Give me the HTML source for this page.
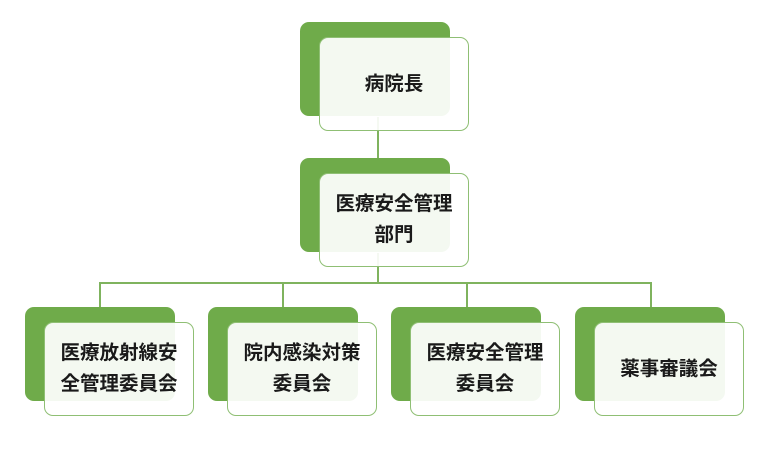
<!DOCTYPE html>
<html><head><meta charset="utf-8"><style>
body{margin:0;width:772px;height:450px;background:#fff;position:relative;overflow:hidden;font-family:"Liberation Sans","Noto Sans CJK JP",sans-serif}
.g{position:absolute;background:#6fab4a;border-radius:9px;width:150px;height:94px}
.w{position:absolute;background:rgba(255,255,255,0.92);border:1.5px solid #8fbf74;border-radius:9px;width:148px;height:92px;display:flex;align-items:center;justify-content:center;text-align:center;font-weight:bold;font-size:19.5px;line-height:31px;color:#1a1a1a;box-sizing:content-box;white-space:nowrap}
.l{position:absolute;background:#7fb35e}
</style></head><body>
<div class="l" style="left:377px;top:117px;width:2px;height:56px"></div>
<div class="l" style="left:377px;top:253px;width:2px;height:31px"></div>
<div class="l" style="left:99px;top:282px;width:553px;height:2px"></div>
<div class="l" style="left:99px;top:282px;width:2px;height:26px"></div>
<div class="l" style="left:282px;top:282px;width:2px;height:26px"></div>
<div class="l" style="left:466px;top:282px;width:2px;height:26px"></div>
<div class="l" style="left:650px;top:282px;width:2px;height:26px"></div>

<div class="g" style="left:300px;top:22px"></div>
<div class="w" style="left:319px;top:37px">病院長</div>
<div class="g" style="left:300px;top:158px"></div>
<div class="w" style="left:319px;top:173px">医療安全管理<br>部門</div>

<div class="g" style="left:25px;top:307px"></div>
<div class="w" style="left:44px;top:322px">医療放射線安<br>全管理委員会</div>
<div class="g" style="left:208px;top:307px"></div>
<div class="w" style="left:227px;top:322px">院内感染対策<br>委員会</div>
<div class="g" style="left:391px;top:307px"></div>
<div class="w" style="left:410px;top:322px">医療安全管理<br>委員会</div>
<div class="g" style="left:575px;top:307px"></div>
<div class="w" style="left:594px;top:322px">薬事審議会</div>
</body></html>
